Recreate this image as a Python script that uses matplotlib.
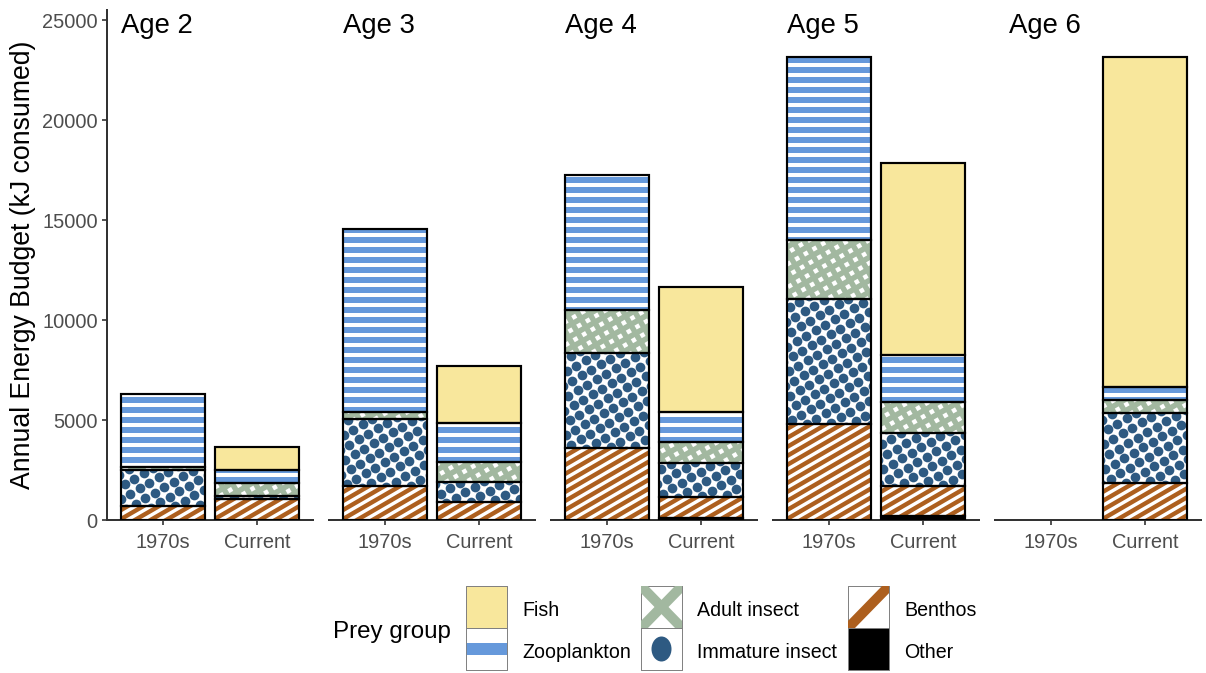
import numpy as np
import matplotlib.pyplot as plt
from matplotlib.patches import Rectangle, Ellipse
from matplotlib.lines import Line2D
from matplotlib.collections import LineCollection

plt.rcParams['font.family'] = ['Liberation Sans', 'DejaVu Sans']

ages = ['Age 2', 'Age 3', 'Age 4', 'Age 5', 'Age 6']
periods = ['1970s', 'Current']

# kJ consumed, two values per age: 1970s, Current
other = [0, 0, 0, 0, 0, 80, 0, 200, 0, 0]
benthos = [700, 1030, 1700, 920, 3600, 1050, 4780, 1520, 0, 1870]
immature = [1800, 190, 3350, 960, 4730, 1700, 6250, 2650, 0, 3500]
adult = [130, 650, 330, 1000, 2170, 1050, 2970, 1550, 0, 630]
zoo = [3670, 630, 9170, 1990, 6750, 1500, 9150, 2310, 0, 630]
fish = [0, 1170, 0, 2830, 0, 6270, 0, 9620, 0, 16520]

groups = ['Other', 'Benthos', 'Immature insect', 'Adult insect', 'Zooplankton', 'Fish']
data = {'Other': other, 'Benthos': benthos, 'Immature insect': immature,
        'Adult insect': adult, 'Zooplankton': zoo, 'Fish': fish}

c_fish = '#F8E79C'
c_zoo = '#6699DB'
c_adult = '#A2B8A0'
c_imm = '#2E5A82'
c_ben = '#AD5F1E'

fills = {'Other': 'black', 'Benthos': c_ben, 'Immature insect': 'white',
         'Adult insect': 'white', 'Zooplankton': c_zoo, 'Fish': c_fish}
# line patterns: list of (angle deg, spacing px, width px, colour)
patterns = {
    'Benthos': [(30, 7.8, 3.4, 'white')],
    'Adult insect': [(30, 10, 5.5, c_adult), (120, 10, 5.5, c_adult)],
    'Zooplankton': [(0, 10, 4.0, 'white')],
}

W, H, DPI = 1206, 673, 120
px2pt = 72 / DPI
fig = plt.figure(figsize=(W / DPI, H / DPI), dpi=DPI)

panel_left = [107, 329, 551, 773, 995]
pw, y_bot, y_top = 206, 520, 10
ph = y_bot - y_top
axis_col = '#333333'


def stripes(ax, angle, spacing, width, color, clip):
    a = np.deg2rad(angle)
    d = np.array([np.cos(a), np.sin(a)])
    n = np.array([-np.sin(a), np.cos(a)])
    c = np.array([pw / 2, ph / 2])
    R = np.hypot(pw, ph) / 2 + 10
    segs = []
    for k in range(-int(R / spacing) - 1, int(R / spacing) + 2):
        p0 = c + k * spacing * n - R * d
        p1 = c + k * spacing * n + R * d
        segs.append([(p0[0] / pw, p0[1] / ph), (p1[0] / pw, p1[1] / ph)])
    lc = LineCollection(segs, colors=color, linewidths=width * px2pt,
                        transform=ax.transAxes, zorder=3, capstyle='butt')
    ax.add_collection(lc)
    lc.set_clip_path(clip)


# dot lattice (pixels) for the immature insect pattern
th = np.deg2rad(30)
sp = 11
ii, jj = np.meshgrid(np.arange(-60, 60), np.arange(-60, 60))
lx = sp * (ii * np.cos(th) - jj * np.sin(th))
ly = sp * (ii * np.sin(th) + jj * np.cos(th))
keep = (lx > -20) & (lx < pw + 20) & (ly > -20) & (ly < ph + 20)
lx, ly = lx[keep] / pw, ly[keep] / ph

xpos = np.array([1, 2])
for i, age in enumerate(ages):
    ax = fig.add_axes([panel_left[i] / W, 1 - y_bot / H, pw / W, ph / H])
    ax.set_xlim(0.4, 2.6)
    ax.set_ylim(0, 25500)
    base = np.zeros(2)
    for g in groups:
        vals = np.array(data[g][2 * i:2 * i + 2], dtype=float)
        m = vals > 0
        if m.any():
            bars = ax.bar(xpos[m], vals[m], 0.9, bottom=base[m], color=fills[g],
                          linewidth=0, zorder=2)
            for p in bars:
                for (ang, spc, wid, col) in patterns.get(g, []):
                    stripes(ax, ang, spc, wid, col, p)
                if g == 'Immature insect':
                    sc = ax.scatter(lx, ly, s=34, color=c_imm, linewidths=0,
                                    transform=ax.transAxes, zorder=3)
                    sc.set_clip_path(p)
            ax.bar(xpos[m], vals[m], 0.9, bottom=base[m], fill=False,
                   edgecolor='black', linewidth=1.3, zorder=4)
        base += vals

    ax.set_xticks(xpos)
    ax.set_xticklabels(periods)
    ax.spines['top'].set_visible(False)
    ax.spines['right'].set_visible(False)
    ax.spines['bottom'].set_color(axis_col)
    ax.spines['bottom'].set_linewidth(1.2)
    ax.tick_params(colors=axis_col, labelcolor='#4D4D4D', labelsize=12,
                   length=3, width=1.0, pad=2.5)
    ax.tick_params(axis='x', pad=4.5)
    if i == 0:
        ax.spines['left'].set_color(axis_col)
        ax.spines['left'].set_linewidth(1.2)
        ax.set_yticks([0, 5000, 10000, 15000, 20000, 25000])
        ax.set_ylabel('Annual Energy Budget (kJ consumed)', fontsize=16, labelpad=4)
    else:
        ax.spines['left'].set_visible(False)
        ax.set_yticks([])
    ax.text(14 / pw, (y_bot - 33) / ph, age, transform=ax.transAxes,
            va='baseline', ha='left', fontsize=16.5)

# legend drawn in pixel space
lax = fig.add_axes([0, 0, 1, 1])
lax.set_xlim(0, W)
lax.set_ylim(H, 0)
lax.axis('off')
lax.text(333, 632, 'Prey group', fontsize=14.5, va='center', ha='left')

kw, kh = 41, 42
cols = [466, 641, 848]
rows = [586, 628]
items = [['Fish', 'Zooplankton'], ['Adult insect', 'Immature insect'], ['Benthos', 'Other']]
for ci, cx in enumerate(cols):
    for ri, ry in enumerate(rows):
        name = items[ci][ri]
        fcol = {'Fish': c_fish, 'Other': 'black'}.get(name, 'white')
        box = Rectangle((cx, ry), kw, kh, facecolor=fcol, edgecolor='#7F7F7F', linewidth=0.5)
        lax.add_patch(box)
        if name == 'Zooplankton':
            lax.add_patch(Rectangle((cx, ry + kh / 2 - 6), kw, 12, facecolor=c_zoo, linewidth=0))
        elif name == 'Immature insect':
            lax.add_patch(Ellipse((cx + kw / 2, ry + kh / 2), 20, 25, facecolor=c_imm, linewidth=0))
        elif name == 'Adult insect':
            for a, b in [((cx, ry), (cx + kw, ry + kh)), ((cx + kw, ry), (cx, ry + kh))]:
                ln = Line2D([a[0], b[0]], [a[1], b[1]], color=c_adult, linewidth=6,
                            solid_capstyle='butt')
                lax.add_line(ln)
                ln.set_clip_path(box)
        elif name == 'Benthos':
            ln = Line2D([cx, cx + kw], [ry + kh, ry], color=c_ben, linewidth=6,
                        solid_capstyle='butt')
            lax.add_line(ln)
            ln.set_clip_path(box)
        lax.add_patch(Rectangle((cx, ry), kw, kh, fill=False, edgecolor='#7F7F7F', linewidth=0.5))
        lax.text(cx + kw + 15, ry + kh / 2 + 3, name, fontsize=11.8, va='center', ha='left')

fig.savefig('out.png', dpi=DPI)
